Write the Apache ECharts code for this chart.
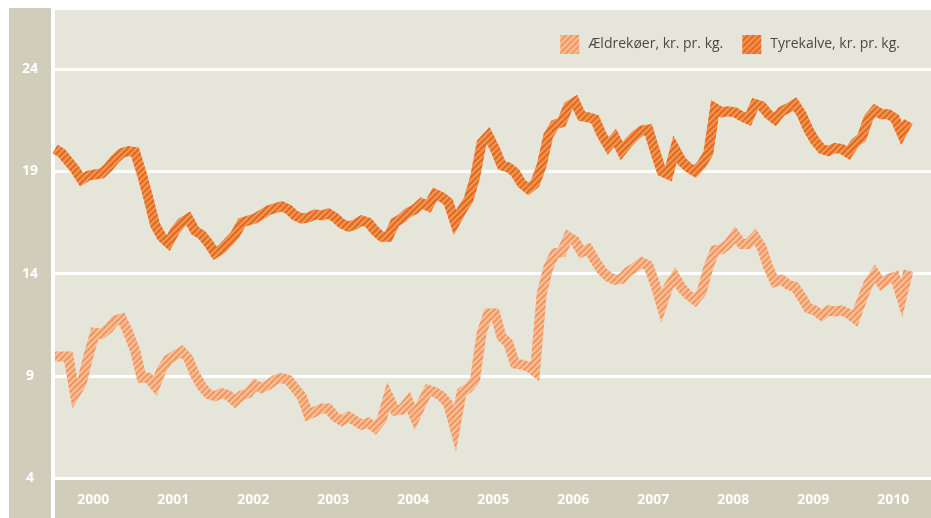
<!DOCTYPE html>
<html>
<head>
<meta charset="utf-8">
<script src="https://cdn.jsdelivr.net/npm/echarts@6/dist/echarts.min.js"></script>
<style>
    html, body { margin: 0; padding: 0; background: #fff; }
    #chart { width: 931px; height: 518px; }
</style>
</head>
<body>
<div id="chart"></div>
<script>
// år på x-aksen (label midt i året)
let years = ['2000', '2001', '2002', '2003', '2004', '2005', '2006', '2007', '2008', '2009', '2010']
let yTicks = [4, 9, 14, 19, 24]

// månedlige priser, jan 2000 og frem
let aeldrekoer = [
    9.95, 9.95, 9.95, 8.1, 8.65, 9.95, 11.1, 11.05, 11.3, 11.7, 11.8, 11.1,
    10.25, 8.9, 8.9, 8.5, 9.3, 9.8, 10.0, 10.2, 9.85, 9.05, 8.5, 8.1,
    8.0, 8.15, 8.05, 7.75, 8.05, 8.15, 8.55, 8.4, 8.55, 8.8, 8.9, 8.8,
    8.4, 8.0, 7.1, 7.25, 7.4, 7.4, 7.0, 6.8, 7.0, 6.8, 6.6, 6.7,
    6.45, 6.85, 8.0, 7.3, 7.35, 7.75, 6.95, 7.65, 8.3, 8.2, 8.0, 7.6,
    6.4, 8.2, 8.4, 8.8, 11.1, 12.05, 12.05, 10.9, 10.6, 9.6, 9.55, 9.45,
    9.2, 13.0, 14.3, 15.0, 15.05, 15.8, 15.6, 15.05, 15.2, 14.65, 14.15, 13.85,
    13.7, 13.75, 14.1, 14.3, 14.55, 14.4, 13.5, 12.4, 13.35, 13.85, 13.3, 12.95,
    12.7, 13.1, 14.3, 15.15, 15.2, 15.45, 15.9, 15.45, 15.45, 15.8, 15.3, 14.3,
    13.6, 13.7, 13.45, 13.35, 12.85, 12.3, 12.2, 11.95, 12.2, 12.15, 12.2, 12.05,
    11.8, 12.7, 13.5, 14.0, 13.5, 13.75, 13.85, 12.8, 14.15
]
let tyrekalve = [
    20.1, 19.9, 19.5, 19.1, 18.6, 18.8, 18.85, 18.9, 19.2, 19.6, 19.9, 20.0,
    19.95, 18.9, 17.7, 16.4, 15.8, 15.5, 16.1, 16.5, 16.7, 16.1, 15.9, 15.5,
    15.0, 15.2, 15.55, 15.9, 16.5, 16.6, 16.7, 16.9, 17.1, 17.2, 17.3, 17.15,
    16.85, 16.7, 16.75, 16.9, 16.85, 16.95, 16.75, 16.45, 16.3, 16.4, 16.6, 16.5,
    16.1, 15.8, 15.8, 16.5, 16.7, 17.0, 17.15, 17.45, 17.3, 17.9, 17.75, 17.5,
    16.5, 17.1, 17.6, 18.7, 20.4, 20.75, 20.1, 19.3, 19.2, 18.95, 18.4, 18.15,
    18.4, 19.3, 20.75, 21.3, 21.4, 22.2, 22.4, 21.7, 21.65, 21.55, 20.8, 20.25,
    20.65, 20.0, 20.4, 20.75, 21.0, 21.05, 20.0, 19.0, 18.85, 20.1, 19.5, 19.2,
    19.0, 19.35, 19.9, 22.1, 21.9, 21.95, 21.9, 21.7, 21.55, 22.3, 22.2, 21.8,
    21.55, 21.95, 22.1, 22.3, 21.8, 21.05, 20.5, 20.1, 20.0, 20.15, 20.1, 19.9,
    20.4, 20.65, 21.6, 22.0, 21.8, 21.8, 21.6, 20.85, 21.45
]

// skraveret mønster til linjerne
function hatch(base, dark, light) {
    let c = document.createElement('canvas')
    c.width = 6
    c.height = 6
    let ctx = c.getContext('2d')
    ctx.fillStyle = base
    ctx.fillRect(0, 0, 6, 6)
    ctx.lineWidth = 1.4
    ctx.strokeStyle = dark
    ;[-6, 0, 6].forEach(function(o) {
        ctx.beginPath()
        ctx.moveTo(o, 6)
        ctx.lineTo(o + 6, 0)
        ctx.stroke()
    })
    ctx.lineWidth = 0.8
    ctx.strokeStyle = light
    ;[-3, 3, 9].forEach(function(o) {
        ctx.beginPath()
        ctx.moveTo(o - 6, 6)
        ctx.lineTo(o, 0)
        ctx.stroke()
    })
    return { image: c, repeat: 'repeat' }
}

let lightPat = hatch('#f7b185', '#ef9158', '#fcd0b2')
let darkPat = hatch('#f0843d', '#e3621c', '#f7ab74')

function pairs(arr) {
    return arr.map(function(v, i) { return [i, v] })
}

let chart = echarts.init(document.getElementById('chart'))

let option = {
    animation: false,
    backgroundColor: '#ffffff',
    grid: {
        left: 55,
        right: 0,
        top: 8,
        bottom: 40,
        show: true,
        backgroundColor: '#e6e5da',
        borderWidth: 0
    },
    graphic: [
        { type: 'rect', z: -1, shape: { x: 9, y: 8, width: 42, height: 510 }, style: { fill: '#d0cdbb' } },
        { type: 'rect', z: -1, shape: { x: 55, y: 480, width: 876, height: 38 }, style: { fill: '#d0cdbb' } }
    ],
    legend: {
        right: 26,
        top: 30,
        itemWidth: 19,
        itemHeight: 19,
        itemGap: 19,
        icon: 'rect',
        textStyle: {
            fontFamily: 'Open Sans',
            fontSize: 14,
            color: '#4a4a4a',
            padding: [0, 0, 0, 4]
        },
        data: ['Ældrekøer, kr. pr. kg.', 'Tyrekalve, kr. pr. kg.']
    },
    xAxis: {
        type: 'value',
        min: 0,
        max: 131.4,
        axisLine: { show: false },
        axisTick: { show: false },
        splitLine: { show: false },
        axisLabel: {
            customValues: years.map(function(y, i) { return i * 12 + 5.75 }),
            formatter: function(v) { return years[Math.round((v - 5.75) / 12)] },
            color: '#ffffff',
            fontFamily: 'Open Sans',
            fontWeight: 'bold',
            fontSize: 14,
            verticalAlign: 'middle',
            margin: 22
        }
    },
    yAxis: {
        type: 'value',
        min: 4,
        max: 27,
        interval: 5,
        axisLine: { show: false },
        axisTick: { show: false },
        splitLine: { lineStyle: { color: '#ffffff', width: 3 } },
        axisLabel: {
            showMaxLabel: false,
            color: '#ffffff',
            fontFamily: 'Open Sans',
            fontWeight: 'bold',
            fontSize: 14,
            align: 'center',
            margin: 25,
            formatter: function(v) { return yTicks.indexOf(v) > -1 ? String(v) : '' }
        }
    },
    series: [{
        name: 'Ældrekøer, kr. pr. kg.',
        type: 'line',
        data: pairs(aeldrekoer),
        symbol: 'none',
        itemStyle: { color: lightPat },
        lineStyle: { color: lightPat, width: 10, join: 'miter', cap: 'butt' }
    }, {
        name: 'Tyrekalve, kr. pr. kg.',
        type: 'line',
        data: pairs(tyrekalve),
        symbol: 'none',
        itemStyle: { color: darkPat },
        lineStyle: { color: darkPat, width: 10, join: 'miter', cap: 'butt' }
    }]
}

chart.setOption(option)

window.onresize = function() {
    chart.resize()
}
</script>
</body>
</html>
